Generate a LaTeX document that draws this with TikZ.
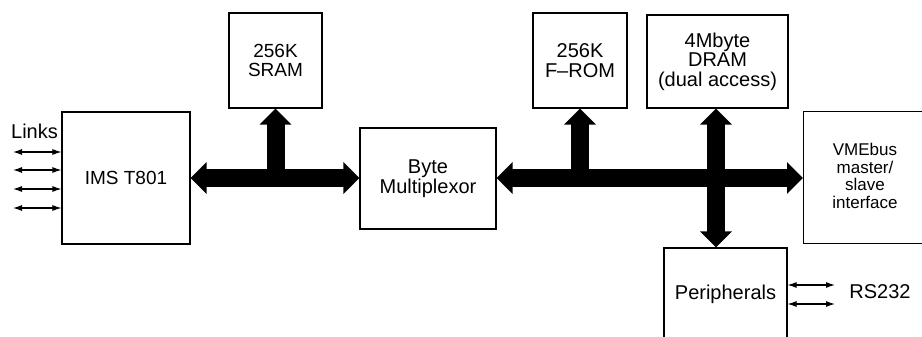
\documentclass[tikz,border=0pt]{standalone}
\usepackage{fontspec}
\setmainfont{Liberation Sans}
\usetikzlibrary{arrows.meta}

\begin{document}
\begin{tikzpicture}[x=1pt,y=-1pt,
  box/.style={draw, line width=1.1pt, inner sep=0pt, align=center,
    font=\fontsize{20}{19.5}\selectfont},
  bus/.style={line width=18pt, -{Triangle[width=31pt,length=16pt]}},
  bustwo/.style={line width=18pt, {Triangle[width=31pt,length=16pt]}-{Triangle[width=31pt,length=16pt]}},
  link/.style={line width=1.1pt, {Latex[length=9pt,width=6pt]}-{Latex[length=9pt,width=6pt]}},
  lbl/.style={font=\fontsize{20}{19.5}\selectfont}]
\useasboundingbox (0,0) rectangle (922,337);

% Blocks
\node[box, minimum width=128, minimum height=132, font=\fontsize{19}{19}\selectfont] (cpu) at (126,178) {IMS T801};
\node[box, minimum width=93, minimum height=95, font=\fontsize{19}{19.5}\selectfont] (sram) at (275.5,60.5) {256K\\SRAM};
\node[box, minimum width=136, minimum height=101] (mux) at (428,178.5) {Byte\\Multiplexor};
\node[box, minimum width=94, minimum height=95] (from) at (580,60.5) {256K\\F--ROM};
\node[box, minimum width=141, minimum height=93] (dram) at (717.5,61.5) {4Mbyte\\DRAM\\(dual access)};
\node[box, minimum width=140, minimum height=132, anchor=north west] (vme) at (803,111) {};
\node[align=center, font=\fontsize{17}{17.5}\selectfont] (vmetext) at (865,176) {VMEbus\\master/\\slave\\interface};
\node[box, minimum width=123, minimum height=92] (periph) at (725.5,294) {Peripherals};

% Buses
\coordinate (tapsram) at (sram.south |- cpu.east);
\coordinate (tapfrom) at (from.south |- cpu.east);
\coordinate (tapdram) at (716,178);
\draw[bustwo] (cpu.east) -- (cpu.east -| mux.west);
\draw[bus] (tapsram) -- (sram.south);
\draw[bustwo] (mux.east |- cpu.east) -- (cpu.east -| vme.west);
\draw[bus] (tapfrom) -- (from.south);
\draw[bustwo] (tapdram |- dram.south) -- (tapdram |- periph.north);

% Links
\node[lbl] (links) at (34.5,131) {Links};
\foreach \y [count=\i] in {152,170,189,208} {
  \coordinate (l\i) at (13,\y);
  \draw[link] (l\i) -- (l\i -| cpu.west);
}

% Serial lines
\node[lbl] (rs) at (880,292) {RS232};
\foreach \y [count=\i] in {285,304} {
  \coordinate (r\i) at (835,\y);
  \draw[link] (r\i -| periph.east) -- (r\i);
}
\end{tikzpicture}
\end{document}
